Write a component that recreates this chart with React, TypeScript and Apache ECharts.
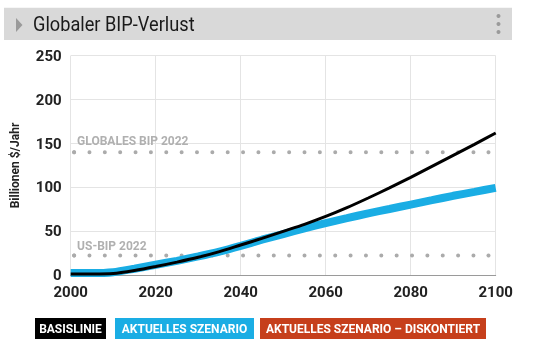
import React, { useEffect, useRef } from "react";
import * as echarts from "echarts";

const years = [2000, 2005, 2010, 2015, 2020, 2025, 2030, 2035, 2040, 2045, 2050, 2055, 2060, 2065, 2070, 2075, 2080, 2085, 2090, 2095, 2100];
const baseline = [1.5, 1.5, 2, 5.5, 10, 15, 20.5, 27, 34.5, 42, 50, 58, 67, 77, 88, 99.5, 111.5, 124, 136.5, 149, 162];
const current = [2.5, 2.5, 3.5, 7.5, 12, 16.5, 21.5, 27, 33.5, 40.5, 47, 53.5, 59.5, 65, 70.5, 75.5, 80.5, 85.5, 90.5, 95, 99.5];

const refLabels = ["GLOBALES BIP 2022", "US-BIP 2022"];
const refValues = [140, 22.5];
const refLabelOffsets = [-11.5, -9.5];
const refRange = [2000.8, 2098.3];

const xTicks = { min: 2000, max: 2100, interval: 20 };
const yTicks = { min: 0, max: 250, interval: 50 };

const title = "Globaler BIP-Verlust";
const yName = "Billionen $/Jahr";
const legendItems = [
  { name: "BASISLINIE", color: "#000000", x: 35, w: 71 },
  { name: "AKTUELLES SZENARIO", color: "#1aade4", x: 115, w: 139 },
  { name: "AKTUELLES SZENARIO – DISKONTIERT", color: "#c63f1b", x: 260, w: 226 },
];

export default function App() {
  const ref = useRef<HTMLDivElement>(null);
  useEffect(() => {
    if (!ref.current) return;
    const chart = echarts.init(ref.current, undefined, { renderer: "svg" });
    const font = "Roboto";
    const refSeries = refValues.map((v, i) => ({
      type: "line",
      z: 1,
      silent: true,
      symbol: "circle",
      symbolSize: 4,
      itemStyle: { color: "#ababab" },
      lineStyle: { color: "#ababab", width: 4, type: [0.01, 15.35], cap: "round" },
      data: [
        {
          value: [refRange[0], v],
          label: {
            show: true,
            position: "right",
            distance: 1,
            offset: [0, refLabelOffsets[i]],
            formatter: refLabels[i],
            color: "#b0b0b0",
            fontFamily: font,
            fontWeight: "bold",
            fontSize: 12,
          },
        },
        [refRange[1], v],
      ],
    }));
    chart.setOption({
      animation: false,
      grid: { left: 70.7, right: 37.3, top: 55.7, bottom: 77.7 },
      xAxis: {
        type: "value",
        min: xTicks.min,
        max: xTicks.max,
        interval: xTicks.interval,
        axisLine: { show: true, lineStyle: { color: "#9a9a9a", width: 1 } },
        axisTick: { show: false },
        splitLine: { show: true, lineStyle: { color: "#e4e4e4", width: 1 } },
        axisLabel: {
          margin: 9,
          color: "#222",
          fontFamily: font,
          fontWeight: "bold",
          fontSize: 15,
          formatter: (v: number) => String(v),
        },
      },
      yAxis: {
        type: "value",
        min: yTicks.min,
        max: yTicks.max,
        interval: yTicks.interval,
        axisLine: { show: false },
        axisTick: { show: false },
        splitLine: { show: true, lineStyle: { color: "#e4e4e4", width: 1 } },
        axisLabel: {
          margin: 9,
          color: "#222",
          fontFamily: font,
          fontWeight: "bold",
          fontSize: 15,
        },
      },
      series: [
        ...refSeries,
        {
          name: "AKTUELLES SZENARIO",
          type: "line",
          z: 3,
          showSymbol: false,
          smooth: 0.25,
          lineStyle: { color: "#1aade4", width: 8 },
          data: years.map((y, i) => [y, current[i]]),
        },
        {
          name: "BASISLINIE",
          type: "line",
          z: 4,
          showSymbol: false,
          smooth: 0.25,
          lineStyle: { color: "#000000", width: 3 },
          data: years.map((y, i) => [y, baseline[i]]),
        },
      ],
      graphic: [
        { type: "rect", shape: { x: 4, y: 7.7, width: 508, height: 32.3 }, style: { fill: "#d9d9d9" } },
        { type: "polygon", shape: { points: [[16, 18], [22.5, 25], [16, 32]] }, style: { fill: "#9a9a9a" } },
        {
          type: "text",
          x: 33,
          y: 24.5,
          scaleX: 0.91,
          style: { text: title, fill: "#1a1a1a", font: `20px ${font}`, verticalAlign: "middle" },
        },
        { type: "circle", shape: { cx: 498.5, cy: 16, r: 2 }, style: { fill: "#9a9a9a" } },
        { type: "circle", shape: { cx: 498.5, cy: 24, r: 2 }, style: { fill: "#9a9a9a" } },
        { type: "circle", shape: { cx: 498.5, cy: 32, r: 2 }, style: { fill: "#9a9a9a" } },
        {
          type: "text",
          x: 15,
          y: 165.5,
          rotation: Math.PI / 2,
          style: { text: yName, fill: "#222", font: `bold 12px ${font}`, align: "center", verticalAlign: "middle" },
        },
        ...legendItems.flatMap((it) => [
          { type: "rect", shape: { x: it.x, y: 318, width: it.w, height: 21 }, style: { fill: it.color } },
          {
            type: "text",
            x: it.x + it.w / 2,
            y: 328.8,
            style: { text: it.name, fill: "#ffffff", font: `bold 12px ${font}`, align: "center", verticalAlign: "middle" },
          },
        ]),
      ],
    });
    return () => chart.dispose();
  }, []);
  return <div ref={ref} style={{ position: "fixed", left: 0, top: 0, width: 533, height: 353 }} />;
}
